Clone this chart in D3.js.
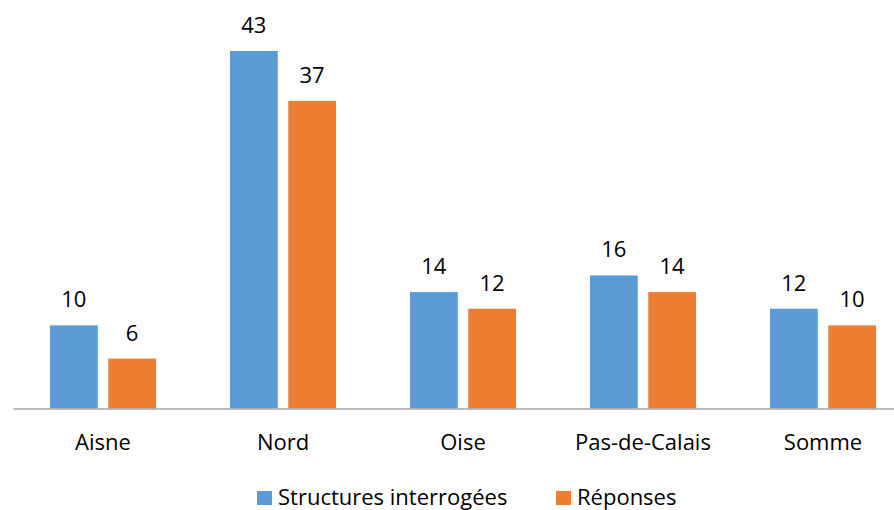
<!DOCTYPE html>
<html><head><meta charset="utf-8">
<script src="https://cdn.jsdelivr.net/npm/d3@7"></script>
<style>body{margin:0;background:#fff;} text{font-family:"Open Sans", sans-serif; fill:#000;}</style>
</head><body>
<svg id="c" width="894" height="510"></svg>
<script>
const categories = ["Aisne","Nord","Oise","Pas-de-Calais","Somme"];
const seriesNames = ["Structures interrogées","Réponses"];
const structures = [10,43,14,16,12];
const reponses = [6,37,12,14,10];
const colors = ["#5B9BD5","#ED7D31"];
const FS = 22;

const svg = d3.select("#c");
const data = categories.map((c,i)=>({cat:c, vals:[structures[i], reponses[i]]}));
const x0 = d3.scaleBand().domain(categories).range([13,913]).padding(0);
const x1 = d3.scaleBand().domain([0,1]).range([37,143]).paddingInner(0.18);
const y = d3.scaleLinear().domain([0,43]).range([408.5,51]);

const g = svg.selectAll("g.cat").data(data).join("g").attr("transform",d=>`translate(${x0(d.cat)},0)`);
g.selectAll("rect").data(d=>d.vals).join("rect")
  .attr("x",(d,i)=>x1(i)).attr("width",x1.bandwidth())
  .attr("y",d=>y(d)).attr("height",d=>y(0)-y(d))
  .attr("fill",(d,i)=>colors[i]);
g.selectAll("text.v").data(d=>d.vals).join("text").attr("class","v")
  .attr("x",(d,i)=>x1(i)+x1.bandwidth()/2).attr("y",d=>y(d)-18)
  .attr("text-anchor","middle").attr("font-size",FS).text(d=>d);

const axis = d3.axisBottom(x0).tickSize(0).tickSizeOuter(0);
const ax = svg.append("g").attr("transform","translate(0,408.5)").call(axis);
ax.select(".domain").attr("stroke","#A6A6A6").attr("stroke-width",1.5);
ax.selectAll("text").attr("font-size",FS).attr("dy",null).attr("y",41).style("font-family","'Open Sans', sans-serif").attr("fill","#000");

const leg = svg.append("g");
const legX = [257,556];
seriesNames.forEach((s,i)=>{
  leg.append("rect").attr("x",legX[i]).attr("y",491).attr("width",15).attr("height",14).attr("fill",colors[i]);
  leg.append("text").attr("x",legX[i]+21).attr("y",504.5).attr("font-size",FS).text(s);
});
</script>
</body></html>
